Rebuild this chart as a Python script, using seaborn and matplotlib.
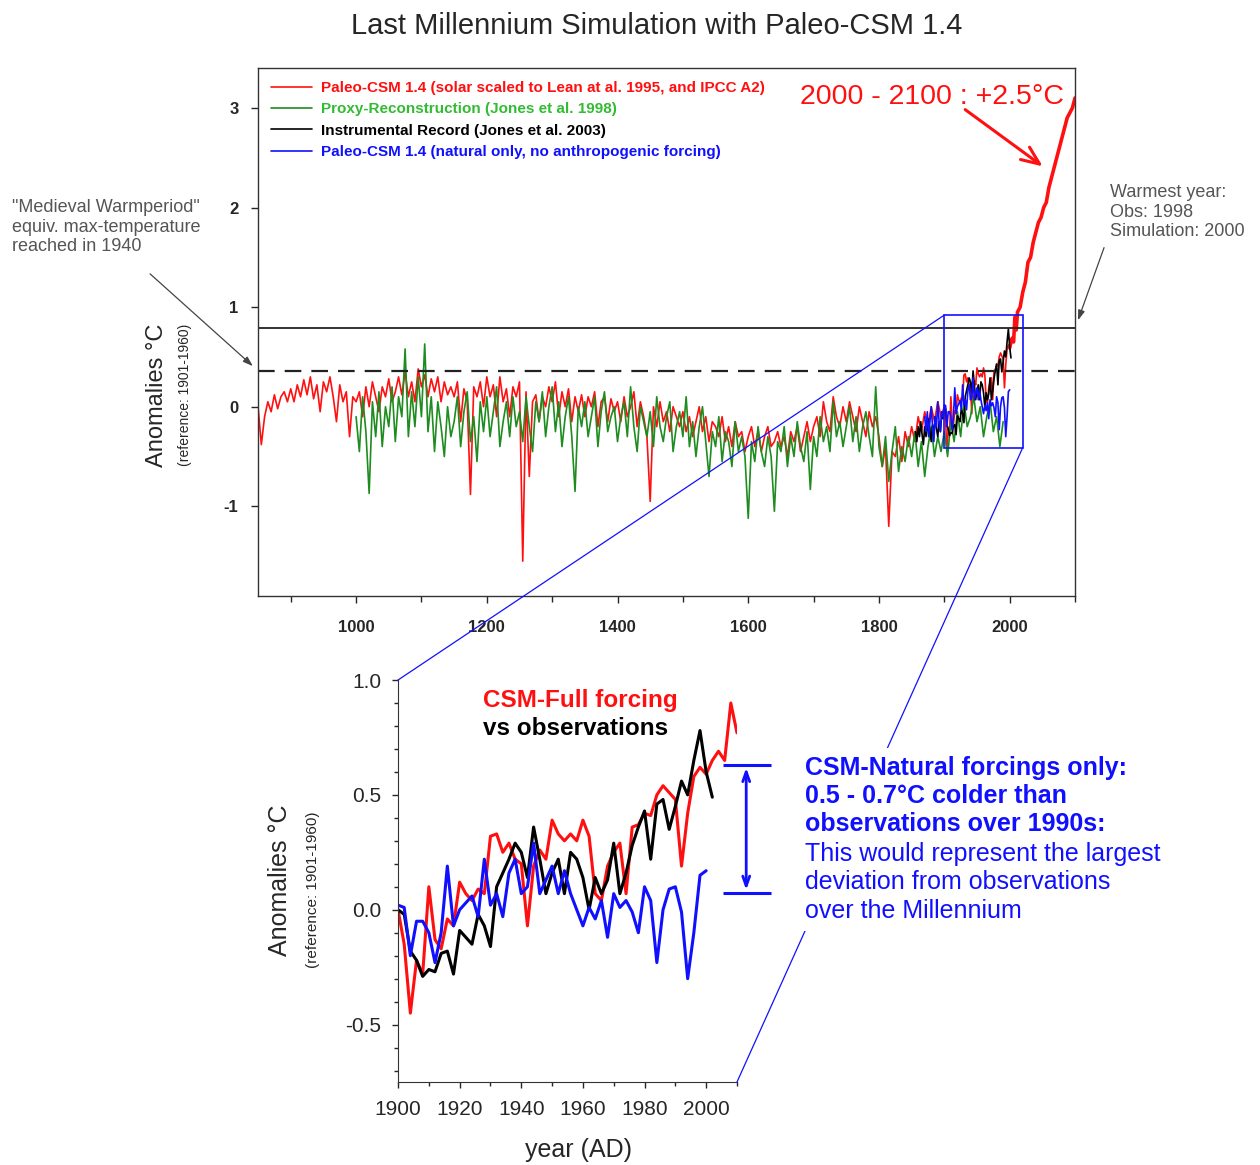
import matplotlib
matplotlib.use('Agg')
import pandas as pd
import matplotlib.pyplot as plt
import seaborn as sns
from matplotlib.patches import Rectangle, ConnectionPatch
from matplotlib.ticker import MultipleLocator, FormatStrFormatter

sns.set_style('ticks')
plt.rcParams['font.family'] = ['Liberation Sans', 'DejaVu Sans']
plt.rcParams['axes.unicode_minus'] = False

# ---- Paleo-CSM 1.4 full forcing (red), 850-1895, every 5 years
red_old_years = list(range(850, 1900, 5))
red_old = [
    0.0, -0.38, -0.1, 0.05, -0.05, 0.12, -0.02, 0.1, 0.15, 0.05,
    0.18, 0.05, 0.22, 0.1, 0.27, 0.12, 0.3, 0.08, 0.22, -0.05,
    0.25, 0.15, 0.3, 0.1, -0.15, 0.22, 0.05, 0.15, -0.3, 0.1,
    0.05, 0.15, -0.1, 0.2, 0.0, 0.25, 0.1, -0.05, 0.2, 0.1,
    0.28, 0.05, 0.15, 0.3, 0.12, 0.35, 0.1, 0.25, 0.05, 0.38,
    0.2, 0.32, 0.1, 0.28, 0.15, 0.3, 0.05, 0.25, 0.12, 0.2,
    0.1, 0.25, -0.15, 0.18, 0.05, -0.88, 0.2, 0.1, 0.25, 0.0,
    0.3, 0.1, 0.22, -0.1, 0.3, 0.05, 0.18, -0.1, 0.2, 0.1,
    0.25, -1.55, 0.15, -0.7, 0.05, 0.12, -0.15, 0.1, 0.0, 0.2,
    0.05, 0.25, -0.1, 0.15, 0.0, 0.18, -0.15, 0.1, -0.05, 0.12,
    -0.1, 0.1, 0.0, 0.15, -0.2, 0.05, 0.1, -0.15, 0.08, -0.05,
    0.05, -0.15, 0.1, -0.1, 0.0, 0.15, -0.2, 0.05, -0.1, -0.3,
    -0.95, 0.0, -0.2, 0.05, -0.15, -0.05, -0.25, 0.0, -0.1, -0.2,
    -0.05, -0.25, -0.1, -0.3, -0.15, 0.0, -0.25, -0.1, -0.35, -0.15,
    -0.2, -0.3, -0.1, -0.35, -0.2, -0.4, -0.15, -0.3, -0.25, -0.45,
    -0.3, -0.2, -0.4, -0.25, -0.45, -0.3, -0.2, -0.4, -0.35, -0.25,
    -0.4, -0.3, -0.5, -0.25, -0.35, -0.2, -0.45, -0.3, -0.15, -0.35,
    -0.2, -0.1, -0.3, 0.05, -0.15, -0.25, 0.1, -0.1, -0.2, 0.0,
    -0.15, 0.05, -0.1, -0.25, 0.0, -0.15, -0.3, -0.05, -0.2, -0.1,
    -0.3, -0.6, -0.4, -1.2, -0.45, -0.5, -0.3, -0.55, -0.25, -0.4,
    -0.2, -0.35, -0.1, -0.25, -0.05, -0.2, 0.0, -0.15, 0.05, -0.1,
]
# 1900-2010, every 2 years (also the inset)
red_new_years = list(range(1900, 2011, 2))
red_new = [
    0.0, -0.15, -0.45, -0.22, -0.28, 0.1, -0.13, -0.17, -0.04, -0.07,
    0.12, 0.07, 0.04, 0.09, 0.07, 0.32, 0.33, 0.25, 0.29, 0.22,
    0.2, -0.07, 0.19, 0.26, 0.22, 0.39, 0.33, 0.30, 0.33, 0.30,
    0.39, 0.32, 0.07, 0.04, 0.19, 0.25, 0.29, 0.07, 0.36, 0.37,
    0.42, 0.41, 0.50, 0.54, 0.51, 0.48, 0.19, 0.42, 0.58, 0.62,
    0.59, 0.65, 0.69, 0.65, 0.90, 0.77,
]
# IPCC A2 scenario 2012-2100, every 4 years
red_future_years = list(range(2012, 2101, 4))
red_future = [
    0.95, 1.0, 1.15, 1.25, 1.45, 1.5, 1.65, 1.75, 1.85, 1.9, 2.0, 2.05,
    2.2, 2.3, 2.4, 2.5, 2.6, 2.7, 2.8, 2.9, 2.95, 3.0, 3.1,
]

# ---- Proxy reconstruction (green), 1000-1990, every 5 years
green_years = list(range(1000, 1991, 5))
green_vals = [
    -0.1, -0.45, 0.1, -0.25, -0.87, 0.05, -0.3, 0.15, -0.4, 0.0,
    -0.2, 0.2, -0.35, 0.1, -0.1, 0.58, -0.3, 0.15, -0.2, 0.3,
    -0.1, 0.63, -0.25, 0.1, -0.45, 0.05, -0.2, -0.5, 0.0, -0.3,
    -0.15, 0.1, -0.4, -0.05, 0.15, -0.35, -0.1, -0.55, 0.05, -0.25,
    0.1, -0.3, -0.05, 0.2, -0.4, -0.15, 0.05, -0.3, 0.1, -0.2,
    -0.05, -0.35, 0.1, -0.2, -0.45, 0.05, -0.15, 0.15, -0.3, 0.0,
    0.2, -0.25, 0.05, -0.4, -0.1, 0.1, -0.3, -0.85, 0.0, -0.2,
    0.05, -0.3, -0.1, 0.1, -0.4, -0.05, 0.15, -0.25, -0.1, 0.0,
    -0.35, -0.1, 0.05, -0.3, 0.2, -0.2, -0.45, 0.0, -0.15, -0.3,
    -0.05, -0.4, 0.1, -0.2, -0.35, -0.1, 0.05, -0.45, -0.2, -0.05,
    -0.3, 0.1, -0.4, -0.15, -0.5, -0.2, 0.0, -0.35, -0.7, -0.25,
    -0.4, -0.1, -0.55, -0.25, -0.35, -0.6, -0.15, -0.45, -0.3, -0.5,
    -1.12, -0.35, -0.55, -0.2, -0.45, -0.6, -0.3, -0.5, -1.05, -0.35,
    -0.45, -0.2, -0.6, -0.3, -0.5, -0.15, -0.4, -0.55, -0.25, -0.83,
    -0.3, -0.5, -0.1, -0.35, -0.2, -0.45, 0.05, -0.3, -0.15, -0.4,
    -0.2, 0.0, -0.35, -0.1, -0.45, -0.2, -0.05, -0.3, -0.5, 0.2,
    -0.4, -0.6, -0.3, -0.75, -0.45, -0.2, -0.65, -0.4, -0.55, -0.3,
    -0.5, -0.25, -0.6, -0.35, -0.7, -0.4, -0.2, -0.5, -0.3, -0.45,
    -0.25, -0.5, -0.15, -0.35, -0.05, -0.3, 0.05, -0.2, -0.1, 0.1,
    -0.15, 0.0, -0.3, -0.1, 0.05, -0.25, -0.1, -0.4, -0.15,
]

# ---- Instrumental record (black)
black_early_years = list(range(1856, 1899, 2))
black_early = [
    -0.25, -0.35, -0.2, -0.3, -0.15, -0.28, -0.38, -0.2, -0.3, -0.22, -0.12,
    -0.25, -0.35, -0.18, -0.28, -0.1, -0.22, -0.3, -0.15, -0.25, -0.08, -0.12,
]
black_new_years = list(range(1900, 2003, 2))
black_new = [
    0.0, -0.02, -0.18, -0.22, -0.29, -0.26, -0.27, -0.19, -0.18, -0.28,
    -0.09, -0.12, -0.15, -0.02, -0.07, -0.16, 0.10, 0.16, 0.22, 0.29,
    0.25, 0.14, 0.36, 0.22, 0.07, 0.16, 0.22, 0.07, 0.25, 0.22,
    0.14, 0.0, 0.14, 0.07, 0.13, 0.29, 0.07, 0.16, 0.28, 0.36,
    0.43, 0.22, 0.46, 0.48, 0.35, 0.45, 0.56, 0.50, 0.65, 0.78,
    0.60, 0.49,
]

# ---- Paleo-CSM 1.4 natural forcing only (blue)
blue_early_years = list(range(1870, 1899, 2))
blue_early = [-0.1, -0.25, -0.05, -0.3, -0.15, 0.0, -0.2, -0.35, -0.1, -0.2,
              0.05, -0.15, -0.25, -0.05, -0.1]
blue_new_years = list(range(1900, 2001, 2))
blue_new = [
    0.02, 0.01, -0.2, -0.05, -0.05, -0.1, -0.23, -0.1, 0.19, -0.07,
    0.0, 0.03, 0.06, -0.03, 0.22, 0.02, 0.07, -0.03, 0.16, 0.22,
    0.07, 0.1, 0.29, 0.07, 0.13, 0.19, 0.07, 0.17, 0.07, 0.0,
    -0.07, 0.01, -0.04, 0.04, -0.12, 0.07, 0.01, 0.04, -0.01, -0.1,
    0.1, 0.04, -0.23, 0.0, 0.09, 0.1, -0.01, -0.3, -0.1, 0.15,
    0.17,
]

warmest_obs = 0.79   # solid line
medieval_max = 0.36  # dashed line

red_label = 'Paleo-CSM 1.4 (solar scaled to Lean at al. 1995, and IPCC A2)'
green_label = 'Proxy-Reconstruction (Jones et al. 1998)'
black_label = 'Instrumental Record (Jones et al. 2003)'
blue_label = 'Paleo-CSM 1.4 (natural only, no anthropogenic forcing)'

red_df = pd.DataFrame({'year': red_old_years + red_new_years + red_future_years,
                       'anom': red_old + red_new + red_future})
green_df = pd.DataFrame({'year': green_years, 'anom': green_vals})
black_df = pd.DataFrame({'year': black_early_years + black_new_years,
                         'anom': black_early + black_new})
blue_df = pd.DataFrame({'year': blue_early_years + blue_new_years,
                        'anom': blue_early + blue_new})

RED = '#ff1010'
GREEN = '#1e8c1e'
BLUE = '#1010ff'
GREY = '#555555'

fig = plt.figure(figsize=(12.6, 11.65), dpi=100)
ax = fig.add_axes([0.2048, 0.4884, 0.6484, 0.4532])
axi = fig.add_axes([0.3159, 0.0712, 0.269, 0.3451])

# ---- main panel
sns.lineplot(data=red_df, x='year', y='anom', ax=ax, color=RED, lw=1.2, label=red_label)
sns.lineplot(data=red_df[red_df['year'] >= 2000], x='year', y='anom', ax=ax,
             color=RED, lw=2.6, legend=False)
sns.lineplot(data=green_df, x='year', y='anom', ax=ax, color=GREEN, lw=1.2, label=green_label)
sns.lineplot(data=black_df, x='year', y='anom', ax=ax, color='black', lw=1.2, label=black_label)
sns.lineplot(data=blue_df, x='year', y='anom', ax=ax, color=BLUE, lw=1.2, label=blue_label)

ax.axhline(warmest_obs, color='#222222', lw=1.3)
ax.axhline(medieval_max, color='#222222', lw=1.6, linestyle=(0, (7.5, 4.5)))

ax.set_xlim(850, 2100)
ax.set_ylim(-1.9, 3.4)
ax.set_xticks(range(1000, 2001, 200))
ax.xaxis.set_minor_locator(MultipleLocator(100))
ax.set_yticks([-1, 0, 1, 2, 3])
ax.set_xlabel('')
ax.set_ylabel('')
ax.tick_params(axis='both', direction='out', length=5, width=1, labelsize=12)
ax.tick_params(axis='x', which='minor', direction='out', length=4, width=1)
ax.tick_params(axis='x', pad=12)
ax.tick_params(axis='y', pad=9)
for lab in ax.get_xticklabels() + ax.get_yticklabels():
    lab.set_fontweight('bold')
for sp in ax.spines.values():
    sp.set_visible(True)
    sp.set_linewidth(1.0)
    sp.set_color('#333333')

leg = ax.legend(loc='upper left', frameon=False, prop={'size': 11, 'weight': 'bold'},
                handlelength=2.7, handletextpad=0.6, labelspacing=0.48, borderaxespad=0.45)
for txt, col in zip(leg.get_texts(), [RED, '#33bb33', 'black', BLUE]):
    txt.set_color(col)

# zoom box
ax.add_patch(Rectangle((1900, -0.41), 120, 1.33, fill=False, ec=BLUE, lw=1.2, zorder=5))

# ---- inset panel
sns.lineplot(x=red_new_years, y=red_new, ax=axi, color=RED, lw=2.2)
sns.lineplot(x=black_new_years, y=black_new, ax=axi, color='black', lw=2.2)
sns.lineplot(x=blue_new_years, y=blue_new, ax=axi, color=BLUE, lw=2.2)

axi.set_xlim(1900, 2010)
axi.set_ylim(-0.75, 1.0)
axi.set_xticks(range(1900, 2001, 20))
axi.xaxis.set_minor_locator(MultipleLocator(10))
axi.set_yticks([-0.5, 0.0, 0.5, 1.0])
axi.yaxis.set_minor_locator(MultipleLocator(0.1))
axi.yaxis.set_major_formatter(FormatStrFormatter('%.1f'))
axi.tick_params(axis='both', which='major', direction='out', length=4, width=1, labelsize=15)
axi.tick_params(axis='both', which='minor', direction='out', length=3, width=1)
axi.tick_params(axis='x', pad=9)
axi.tick_params(axis='y', pad=8)
axi.set_xlabel('')
axi.set_ylabel('')
sns.despine(ax=axi)
for sp in ['left', 'bottom']:
    axi.spines[sp].set_color('#333333')

# difference marker (natural vs observations)
axi.hlines([0.63, 0.074], 2005.5, 2021, color=BLUE, lw=2.2, clip_on=False)
axi.annotate('', xy=(2013, 0.074), xytext=(2013, 0.63), xycoords='data',
             arrowprops=dict(arrowstyle='<->,head_length=0.7,head_width=0.25',
                             color=BLUE, lw=2), annotation_clip=False)

# connection lines
for xa, xb in [((1900, 0.92), (1900, 1.0)), ((2020, -0.41), (2010, -0.75))]:
    con = ConnectionPatch(xyA=xa, coordsA=ax.transData, xyB=xb, coordsB=axi.transData,
                          color=BLUE, lw=0.9)
    fig.add_artist(con)

# ---- texts
fig.text(0.521, 0.978, 'Last Millennium Simulation with Paleo-CSM 1.4',
         ha='center', va='center', fontsize=21)
fig.text(0.1246, 0.661, 'Anomalies °C', rotation=90, ha='center', va='center', fontsize=17)
fig.text(0.147, 0.661, '(reference: 1901-1960)', rotation=90, ha='center', va='center',
         fontsize=10)
fig.text(0.222, 0.2446, 'Anomalies °C', rotation=90, ha='center', va='center', fontsize=18)
fig.text(0.2484, 0.2360, '(reference: 1901-1960)', rotation=90, ha='center', va='center',
         fontsize=11)
fig.text(0.459, 0.0125, 'year (AD)', ha='center', va='center', fontsize=18)

fig.text(0.635, 0.917, '2000 - 2100 : +2.5°C', ha='left', va='center', fontsize=20.5,
         color=RED)
ax.annotate('', xy=(1045 / 1260, 1 - 168 / 1165), xytext=(963 / 1260, 1 - 108 / 1165),
            xycoords='figure fraction', textcoords='figure fraction',
            arrowprops=dict(arrowstyle='->,head_length=1.3,head_width=0.55', color=RED, lw=2.2))

fig.text(0.0095, 0.829, '"Medieval Warmperiod"\nequiv. max-temperature\nreached in 1940',
         ha='left', va='top', fontsize=13, color=GREY, linespacing=1.2)
ax.annotate('', xy=(255 / 1260, 1 - 368 / 1165), xytext=(148 / 1260, 1 - 272 / 1165),
            xycoords='figure fraction', textcoords='figure fraction',
            arrowprops=dict(arrowstyle='-|>,head_length=0.6,head_width=0.2', color='#444444', lw=0.9),
            annotation_clip=False)

fig.text(0.881, 0.842, 'Warmest year:\nObs: 1998\nSimulation: 2000',
         ha='left', va='top', fontsize=13, color=GREY, linespacing=1.2)
ax.annotate('', xy=(1077 / 1260, 1 - 323 / 1165), xytext=(1105 / 1260, 1 - 245 / 1165),
            xycoords='figure fraction', textcoords='figure fraction',
            arrowprops=dict(arrowstyle='-|>,head_length=0.6,head_width=0.2', color='#444444', lw=0.9),
            annotation_clip=False)

fig.text(0.383, 0.399, 'CSM-Full forcing', ha='left', va='center', fontsize=17.5,
         fontweight='bold', color=RED)
fig.text(0.383, 0.375, 'vs observations', ha='left', va='center', fontsize=17.5,
         fontweight='bold', color='black')

fig.text(0.639, 0.351, 'CSM-Natural forcings only:\n0.5 - 0.7°C colder than\nobservations over 1990s:',
         ha='left', va='top', fontsize=18, fontweight='bold', color=BLUE, linespacing=1.22,
         bbox=dict(fc='white', ec='none', pad=6), zorder=10)
fig.text(0.639, 0.277, 'This would represent the largest\ndeviation from observations\nover the Millennium',
         ha='left', va='top', fontsize=18, color=BLUE, linespacing=1.22,
         bbox=dict(fc='white', ec='none', pad=6), zorder=10)

fig.savefig('out.png', dpi=100)
